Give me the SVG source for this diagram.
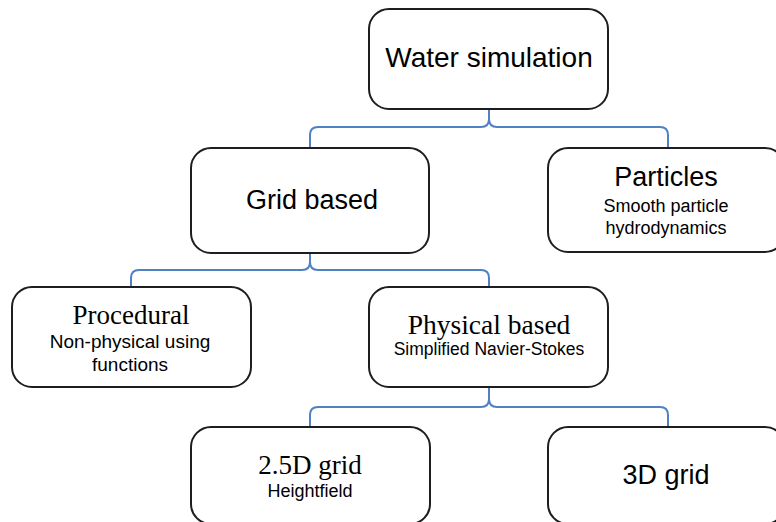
<svg xmlns="http://www.w3.org/2000/svg" width="776" height="522" viewBox="0 0 776 522">
<style>
.box{fill:#ffffff;stroke:#1e1e1e;stroke-width:2}
.conn{fill:none;stroke:#4f81c4;stroke-width:2}
.sans{font-family:"Liberation Sans",Arial,sans-serif;fill:#000;text-anchor:middle}
.serif{font-family:"Liberation Serif","Times New Roman",serif;fill:#000;text-anchor:middle}
.big{font-size:27px}
.small{font-size:18px}
</style>
<rect width="776" height="522" fill="#ffffff"/>
<g id="connectors">
<path class="conn" d="M489,109 V119 Q489,127 481,127 H318 Q310,127 310,135 V148"/>
<path class="conn" d="M489,119 Q489,127 497,127 H660 Q668,127 668,135 V148"/>
<path class="conn" d="M310,253 V262 Q310,270 302,270 H139 Q131,270 131,278 V287"/>
<path class="conn" d="M310,262 Q310,270 318,270 H481 Q489,270 489,278 V287"/>
<path class="conn" d="M489,387 V399 Q489,407 481,407 H318 Q310,407 310,415 V427"/>
<path class="conn" d="M489,399 Q489,407 497,407 H660 Q668,407 668,415 V427"/>
</g>
<g id="water-simulation">
<rect class="box" x="369" y="9" width="239" height="100" rx="20"/>
<text class="sans" x="489" y="67" font-size="28">Water simulation</text>
</g>
<g id="grid-based">
<rect class="box" x="191" y="148" width="238" height="105" rx="20"/>
<text class="sans big" x="312" y="209">Grid based</text>
</g>
<g id="particles">
<rect class="box" x="548" y="148" width="237" height="104" rx="20"/>
<text class="sans big" x="666" y="186">Particles</text>
<text class="sans small" x="666" y="212">Smooth particle</text>
<text class="sans small" x="666" y="234">hydrodynamics</text>
</g>
<g id="procedural">
<rect class="box" x="12" y="287" width="239" height="100" rx="20"/>
<text class="serif big" x="131" y="324">Procedural</text>
<text class="sans" x="130" y="348" font-size="19">Non-physical using</text>
<text class="sans" x="130" y="371" font-size="19">functions</text>
</g>
<g id="physical-based">
<rect class="box" x="369" y="287" width="239" height="100" rx="20"/>
<text class="serif" x="489" y="334" font-size="27.5">Physical based</text>
<text class="sans" x="489" y="355" font-size="17.5">Simplified Navier-Stokes</text>
</g>
<g id="grid-2-5d">
<rect class="box" x="191" y="427" width="239" height="97" rx="20"/>
<text class="serif big" x="310" y="474">2.5D grid</text>
<text class="sans small" x="310" y="497">Heightfield</text>
</g>
<g id="grid-3d">
<rect class="box" x="548" y="427" width="237" height="97" rx="20"/>
<text class="sans big" x="666" y="484">3D grid</text>
</g>
</svg>
